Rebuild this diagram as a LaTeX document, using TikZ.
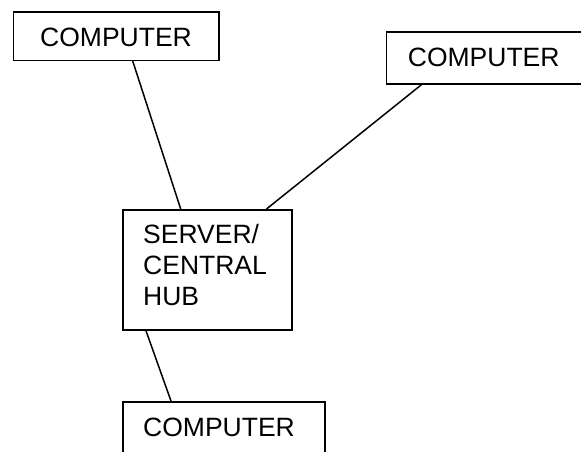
\documentclass[tikz,border=0pt]{standalone}
\usepackage{fontspec}
\setmainfont{Liberation Sans}
\begin{document}
\begin{tikzpicture}[x=1pt,y=-1pt,
  box/.style={draw=black,line width=1.5pt,rectangle,inner sep=0pt,anchor=north west},
  lbl/.style={font=\fontsize{26.5}{31}\selectfont,inner sep=0pt,anchor=base west,align=left},
  link/.style={draw=black,line width=1.5pt}]
\useasboundingbox (0,0) rectangle (581,451);
\clip (0,0) rectangle (581,451);
\fill[white] (0,0) rectangle (581,451);
% boxes
\node[box,minimum width=205.6pt,minimum height=48.5pt] (tl) at (12.7,11) {};
\node[box,minimum width=300pt,minimum height=52pt] (tr) at (385.7,31) {};
\node[box,minimum width=168.7pt,minimum height=120.3pt] (srv) at (122.3,209) {};
\node[box,minimum width=202pt,minimum height=90pt] (bot) at (122.3,401) {};
% texts
\node[lbl] (tltxt) at (40,46.7) {COMPUTER};
\node[lbl] (trtxt) at (407.7,66.7) {COMPUTER};
\node[lbl] (srvtxt) at (143,305) {SERVER/\\CENTRAL\\HUB};
\node[lbl] (bottxt) at (143,436.7) {COMPUTER};
% connectors
\draw[link] ([xshift=120pt]tl.south west) -- ([xshift=58.4pt]srv.north west);
\draw[link] ([xshift=36pt]tr.south west) -- ([xshift=144.2pt]srv.north west);
\draw[link] ([xshift=23.7pt]srv.south west) -- ([xshift=48.7pt]bot.north west);
\end{tikzpicture}
\end{document}
